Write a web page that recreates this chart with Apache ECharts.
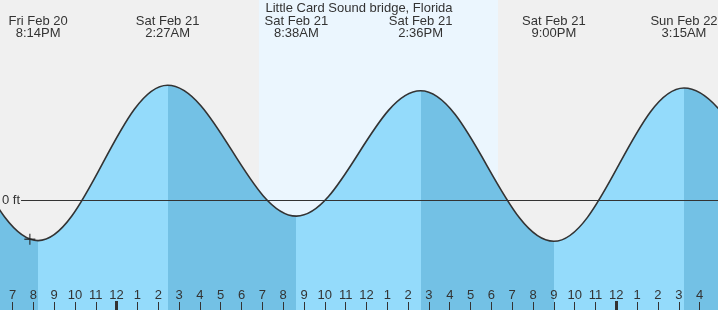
<!DOCTYPE html>
<html><head><meta charset="utf-8">
<script src="https://cdn.jsdelivr.net/npm/echarts@6/dist/echarts.min.js"></script>
<style>html,body{margin:0;padding:0;background:#f0f0f0}#c{width:718px;height:310px}</style>
</head><body><div id="c"></div>
<script>
// ---- data ----
const chartTitle = 'Little Card Sound bridge, Florida';
const origin = '2026-02-21T00:00';
const viewStart = '2026-02-20T18:24';
const viewEnd = '2026-02-22T04:53';
const tideTimes = ['2026-02-20T07:50','2026-02-20T14:00','2026-02-20T20:14','2026-02-21T02:27','2026-02-21T08:38','2026-02-21T14:36','2026-02-21T21:00','2026-02-22T03:15','2026-02-22T09:30','2026-02-22T15:35'];
const tideHeights = [-0.30, 1.58, -0.58, 1.64, -0.23, 1.56, -0.59, 1.60, -0.20, 1.55];
const tideLabels = ['', '', 'Fri Feb 20\n8:14PM', 'Sat Feb 21\n2:27AM', 'Sat Feb 21\n8:38AM', 'Sat Feb 21\n2:36PM', 'Sat Feb 21\n9:00PM', 'Sun Feb 22\n3:15AM', '', ''];
const sunTimes = ['2026-02-21T06:50', '2026-02-21T18:19'];
const hourTicks = [-5,-4,-3,-2,-1,0,1,2,3,4,5,6,7,8,9,10,11,12,13,14,15,16,17,18,19,20,21,22,23,24,25,26,27,28];
const hourLabels = ['7','8','9','10','11','12','1','2','3','4','5','6','7','8','9','10','11','12','1','2','3','4','5','6','7','8','9','10','11','12','1','2','3','4'];
const midnightTicks = [0, 24];
const nowTime = '2026-02-20T19:50';
const nowHeight = -0.56;
const yMin = -1.571, yMax = 2.857;

// ---- helpers ----
function hrs(s) { return (new Date(s) - new Date(origin)) / 3600000; }
const FONT = "'Liberation Sans', Arial, sans-serif";
const TXT = '#333';
const LIGHT = '#94dbfb', DARK = '#73c1e5';
const xMin = hrs(viewStart), xMax = hrs(viewEnd);
const tideX = tideTimes.map(hrs);
const tideData = tideX.map((x, i) => [x, tideHeights[i]]);
const labelVals = [], labelMap = {};
tideLabels.forEach((l, i) => { if (l) { labelVals.push(tideX[i]); labelMap[tideX[i].toFixed(4)] = l; } });
const hourMap = {};
hourTicks.forEach((h, i) => hourMap[h] = hourLabels[i]);
const pieces = [];
for (let i = 0; i < tideX.length - 1; i++) {
  pieces.push({ gte: tideX[i], lt: tideX[i + 1], color: tideHeights[i + 1] > tideHeights[i] ? LIGHT : DARK });
}
const SMOOTH = 0.363;

const chart = echarts.init(document.getElementById('c'), null, { renderer: 'canvas' });
chart.setOption({
  backgroundColor: '#f0f0f0',
  animation: false,
  textStyle: { fontFamily: FONT },
  title: { text: chartTitle, left: 'center', top: 2, padding: 0, textStyle: { fontSize: 13, fontWeight: 'normal', color: TXT, fontFamily: FONT } },
  grid: { left: 0, right: 0, top: 0, bottom: 0, containLabel: false, outerBoundsMode: 'none' },
  xAxis: [
    { type: 'value', min: xMin, max: xMax, position: 'bottom', z: 10,
      axisLine: { show: false, onZero: false }, splitLine: { show: false },
      axisTick: { show: true, inside: true, length: 8, customValues: hourTicks, lineStyle: { color: TXT, width: 1 } },
      axisLabel: { show: true, inside: true, margin: 8, customValues: hourTicks, fontSize: 13, color: TXT, fontFamily: FONT,
        formatter: v => hourMap[Math.round(v)] || '' } },
    { type: 'value', min: xMin, max: xMax, position: 'bottom', z: 10,
      axisLine: { show: false, onZero: false }, splitLine: { show: false },
      axisTick: { show: true, inside: true, length: 9, customValues: midnightTicks, lineStyle: { color: TXT, width: 3 } },
      axisLabel: { show: false } },
    { type: 'value', min: xMin, max: xMax, position: 'top', z: 10,
      axisLine: { show: false, onZero: false }, splitLine: { show: false }, axisTick: { show: false },
      axisLabel: { show: true, inside: true, margin: 15, customValues: labelVals, fontSize: 13, lineHeight: 12, color: TXT, fontFamily: FONT,
        formatter: v => labelMap[v.toFixed(4)] || '' } }
  ],
  yAxis: { type: 'value', min: yMin, max: yMax, z: 10,
    axisLine: { show: false, onZero: false }, axisTick: { show: false }, splitLine: { show: false },
    axisLabel: { show: true, inside: true, margin: 0, customValues: [0], fontSize: 13, color: TXT, fontFamily: FONT,
      backgroundColor: '#f0f0f0', padding: [1, 1, 1, 2], formatter: () => '0 ft' } },
  visualMap: { type: 'piecewise', show: false, seriesIndex: 1, dimension: 0, pieces: pieces, outOfRange: { color: LIGHT } },
  series: [
    { type: 'line', z: 1, data: [], silent: true,
      markArea: { silent: true, itemStyle: { color: '#ebf6fe' }, data: [[{ xAxis: hrs(sunTimes[0]) }, { xAxis: hrs(sunTimes[1]) }]] },
      markLine: { silent: true, symbol: 'none', label: { show: false }, lineStyle: { color: TXT, width: 1, type: 'solid' }, data: [{ yAxis: 0 }] } },
    { type: 'line', z: 2, data: tideData, smooth: SMOOTH, smoothMonotone: 'x', showSymbol: false, symbol: 'none',
      lineStyle: { width: 0, opacity: 0 }, areaStyle: { opacity: 1, origin: 'start' }, silent: true },
    { type: 'line', z: 3, data: tideData, smooth: SMOOTH, smoothMonotone: 'x', showSymbol: false, symbol: 'none',
      lineStyle: { color: '#333', width: 1.6 }, silent: true },
    { type: 'scatter', z: 4, data: [[hrs(nowTime), nowHeight]], symbol: 'path://M4.4,0H5.6V4.4H10V5.6H5.6V10H4.4V5.6H0V4.4H4.4Z', symbolSize: 11,
      itemStyle: { color: '#222' }, silent: true }
  ]
});
</script></body></html>
